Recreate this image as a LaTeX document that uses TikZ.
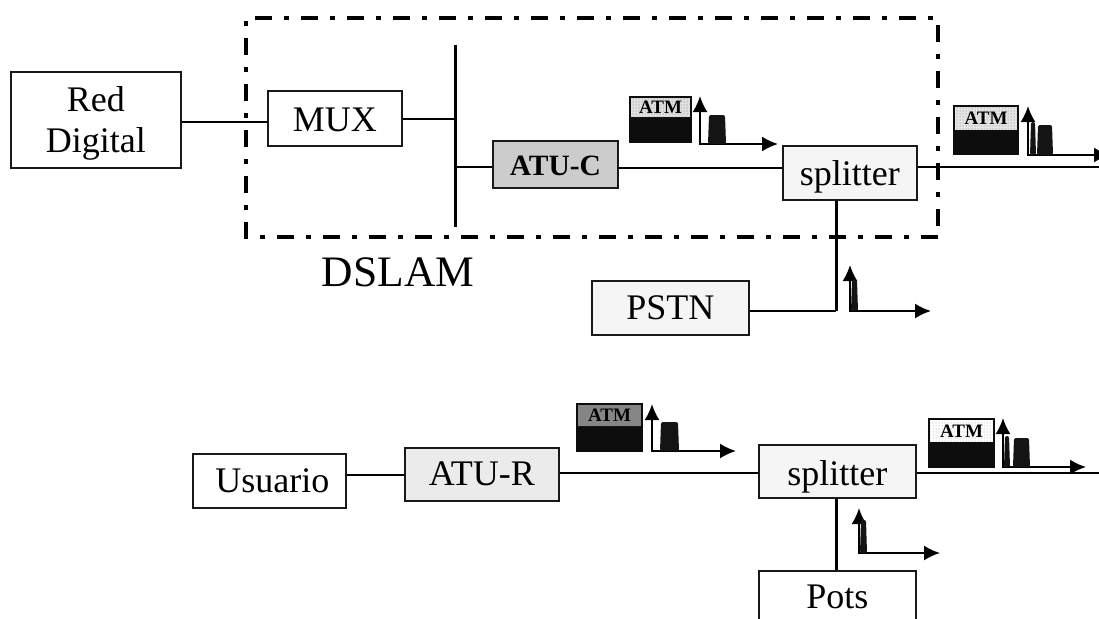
\documentclass[tikz,border=0pt]{standalone}
\usepackage{fontspec}
\setmainfont{Liberation Serif}
\usetikzlibrary{arrows.meta,patterns}
\tikzset{
  x=1pt,y=-1pt,
  box/.style={draw=black!90,line width=1.8pt,fill=black!4,inner sep=0pt,anchor=north west,font=\fontsize{36}{36}\selectfont,align=center},
  base/.style={text depth=0pt,text height=#1pt},
  wire/.style={line width=2.7pt,draw=black},
  frame/.style={line width=4pt,dash pattern=on 17pt off 12pt on 5pt off 12pt},
  axis/.style={line width=2pt,{Latex[length=16pt,width=15pt]}-{Latex[length=16pt,width=15pt]}},
  atmlabel/.style={font=\bfseries\fontsize{19}{19}\selectfont,inner sep=0pt},
}
% icon: name, x0, y0, x1, y1, ysplit, light fill, pattern colour
\newcommand{\atmicon}[8]{%
  \fill[black!95] (#2,#3) rectangle (#4,#5);
  \fill[#7] (#2+2,#3+2) rectangle (#4-2,#6);
  \fill[pattern=dots,pattern color=#8] (#2+2,#3+2) rectangle (#4-2,#6);
  \node[atmlabel] (#1) at ({(#2+#4)/2},{(#3+#6)/2+1}) {ATM};
}
% spectrum: name, axis x, top y, base y, end x
\newcommand{\spectrum}[5]{%
  \coordinate (#1t) at (#2,#3);
  \coordinate (#1o) at (#2,#4);
  \coordinate (#1e) at (#5,#4);
  \draw[axis] (#1t) -- (#1o) -- (#1e);
}
\newcommand{\pulse}[4]{\fill[black!92,rounded corners=2pt] (#1,#4) -- (#1+1,#3) -- (#2-1,#3) -- (#2,#4) -- cycle;}
\begin{document}
\begin{tikzpicture}
\useasboundingbox (0,0) rectangle (1099,618);
% frame
\coordinate (fa) at (246,18);
\coordinate (fb) at (938,237);
\draw[frame] (fb) -- (fa |- fb) -- (fa) -- (fb |- fa) -- cycle;
% bus
\coordinate (busT) at (455,45);
\coordinate (busB) at (455,227);
\draw[wire,line width=3pt] (busT) -- (busB);
% boxes
\node[box,fill=white,minimum width=170pt,minimum height=96pt,font=\fontsize{36}{41}\selectfont] (red) at (10,71) {Red\rule{0pt}{31pt}\\Digital};
\node[box,fill=white,minimum width=134pt,minimum height=55pt,base=26] (mux) at (267,90) {MUX};
\node[box,fill=black!20,minimum width=125pt,minimum height=47pt,base=22,font=\bfseries\fontsize{29.5}{30}\selectfont] (atuc) at (492,140) {ATU-C};
\node[box,minimum width=134pt,minimum height=54pt,base=26] (spa) at (782,145) {splitter};
\node[box,minimum width=157pt,minimum height=54pt,base=24] (pstn) at (591,280) {PSTN};
\node[box,fill=white,minimum width=153pt,minimum height=54pt,base=24] (usu) at (192,453) {\hspace*{6pt}Usuario};
\node[box,fill=black!8,minimum width=154pt,minimum height=53pt,base=23] (atur) at (404,447) {ATU-R};
\node[box,minimum width=157pt,minimum height=53pt,base=29] (spb) at (758,444) {splitter};
\node[box,fill=white,minimum width=157pt,minimum height=60pt,base=16] (pots) at (758,570) {Pots};
\node[font=\fontsize{43.5}{43.5}\selectfont,inner sep=0pt] (dslam) at (398,272) {DSLAM};
% free ends
\coordinate (endA) at (1099,167);
\coordinate (endB) at (1099,473);
\coordinate (busM) at (455,119);
\coordinate (busC) at (455,167);
\coordinate (joint) at (836,311);
\coordinate (potsj) at (836,570);
% connectors
\draw[wire] (red.east |- 0,122) -- (mux.west |- 0,122);
\draw[wire] (mux.east |- busM) -- (busM);
\draw[wire] (busC) -- (atuc.west |- busC);
\draw[wire] (atuc.east |- 0,168) -- (spa.west |- 0,168);
\draw[wire] (spa.east |- endA) -- (endA);
\draw[wire,line width=3pt] (spa.south -| joint) -- (joint);
\draw[wire] (pstn.east |- joint) -- (joint);
\draw[wire] (usu.east |- 0,475) -- (atur.west |- 0,475);
\draw[wire] (atur.east |- endB) -- (spb.west |- endB);
\draw[wire] (spb.east |- endB) -- (endB);
\draw[wire,line width=3pt] (spb.south -| potsj) -- (pots.north -| potsj);
% icons
\atmicon{ia}{629}{96}{692}{143}{117}{black!12}{black!55}
\spectrum{sa}{700}{96}{144}{778}
\pulse{708}{726}{115}{144}
\atmicon{ib}{953}{105}{1019}{155}{130}{black!10}{black!55}
\spectrum{sb}{1028}{106}{155}{1110}
\pulse{1030}{1036}{122}{155}
\pulse{1037}{1053}{125}{155}
\spectrum{sc}{850}{265}{311}{931}
\pulse{851}{858}{280}{311}
\atmicon{ic}{576}{403}{643}{452}{426}{black!48}{black!48}
\spectrum{sd}{652}{404}{451}{736}
\pulse{660}{679}{422}{451}
\atmicon{id}{928}{418}{995}{468}{442}{white}{black!40}
\spectrum{se}{1003}{418}{467}{1086}
\pulse{1004}{1010}{436}{467}
\pulse{1013}{1030}{438}{467}
\spectrum{sf}{859}{508}{553}{940}
\pulse{860}{867}{520}{553}
\end{tikzpicture}
\end{document}
